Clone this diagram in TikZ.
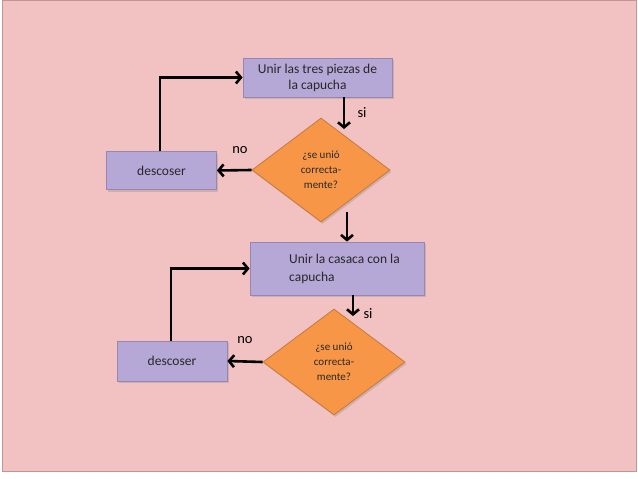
\documentclass[tikz,border=0pt]{standalone}
\usepackage{fontspec}
\setmainfont{Carlito}
\usetikzlibrary{shapes.geometric,arrows.meta,shadows}
\definecolor{bgpink}{RGB}{242,194,195}
\definecolor{bgedge}{RGB}{190,150,150}
\definecolor{boxfill}{RGB}{181,167,214}
\definecolor{boxedge}{RGB}{150,135,175}
\definecolor{diafill}{RGB}{247,150,70}
\definecolor{diaedge}{RGB}{200,120,60}
\definecolor{txt}{RGB}{40,40,40}
\tikzset{
  procbox/.style={draw=boxedge, line width=0.8pt, fill=boxfill, inner sep=2pt, align=center,
    text=txt, font=\fontsize{13.5}{16}\selectfont,
    drop shadow={shadow xshift=1.5pt, shadow yshift=-2pt, opacity=0.3}},
  decision/.style={diamond, draw=diaedge, line width=0.8pt, fill=diafill, inner sep=0pt, align=center,
    text=txt, font=\fontsize{11}{15}\selectfont,
    drop shadow={shadow xshift=1.5pt, shadow yshift=-2pt, opacity=0.3}},
  conn/.style={line width=2.6pt, -{Straight Barb[length=5pt,width=12pt]}},
  lbl/.style={font=\fontsize{14.5}{16}\selectfont, text=black}
}
\begin{document}
\begin{tikzpicture}[x=1pt,y=-1pt]
\useasboundingbox (0,0) rectangle (638,479);
\fill[white] (0,0) rectangle (638,479);
\fill[bgpink, draw=bgedge, line width=1pt] (2,0.5) rectangle (636,471);

\node[procbox, minimum width=149pt, minimum height=39pt] (box1) at (317.5,77.5) {Unir las tres piezas de\\la capucha};
\node[decision, minimum width=138pt, minimum height=104pt] (dia1) at (321,170) {¿se unió\\correcta-\\mente?};
\node[procbox, minimum width=110pt, minimum height=38pt] (desc1) at (161.5,170.5) {descoser};

\node[procbox, minimum width=174pt, minimum height=53pt] (box2) at (337,268.5) {};
\node[anchor=west, align=left, text=txt, font=\fontsize{13.5}{18}\selectfont, inner sep=0pt] (box2t) at (289,269) {Unir la casaca con la\\capucha};
\node[decision, minimum width=142pt, minimum height=106pt] (dia2) at (334,362) {¿se unió\\correcta-\\mente?};
\node[procbox, minimum width=110pt, minimum height=40pt] (desc2) at (172,361) {descoser};

% connectors
\coordinate (t1) at (344,129);
\draw[conn] (box1.south -| t1) -- (t1);
\node[lbl] (si1) at (362,113) {si};
\draw[conn] (dia1.west) -- (desc1.east);
\node[lbl] (no1) at (240,150) {no};
\draw[conn] (desc1.north -| 160,0) |- (box1.west);

\coordinate (s2) at (347,212);
\draw[conn] (s2) -- (box2.north -| s2);
\coordinate (t2) at (353,316);
\draw[conn] (box2.south -| t2) -- (t2);
\node[lbl] (si2) at (368,314) {si};
\draw[conn] (dia2.west) -- (desc2.east);
\node[lbl] (no2) at (245,340) {no};
\draw[conn] (desc2.north -| 171,0) |- (box2.west);
\end{tikzpicture}
\end{document}
